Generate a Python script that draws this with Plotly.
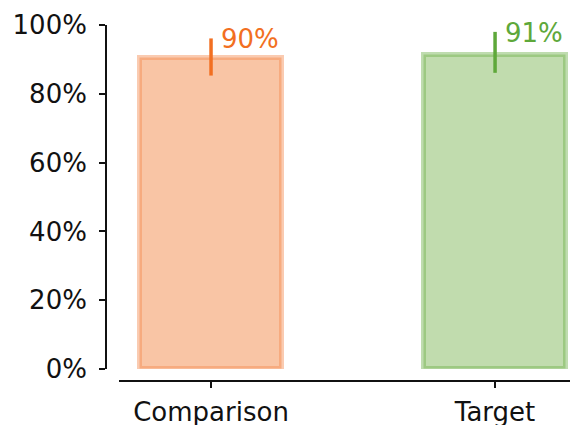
import plotly.graph_objects as go

categories = ["Comparison", "Target"]
values = [0.905, 0.914]
err_plus = [0.056, 0.066]
err_minus = [0.052, 0.053]
labels = ["90%", "91%"]
y_ticks = [0, 0.2, 0.4, 0.6, 0.8, 1.0]

fills = ["#f9c5a5", "#c1dcae"]
edges = ["rgba(243,140,82,0.45)", "rgba(112,178,78,0.45)"]
accents = ["#f26f21", "#5ea83a"]

# page body margin offset (8px) compensated
OFF = 8
W, H = 578 - OFF, 425 - OFF
FONT = "DejaVu Sans"


def px(x):
    return (x - OFF) / W


def py(y):
    return (H - (y - OFF)) / H


fig = go.Figure()
for i, c in enumerate(categories):
    fig.add_trace(go.Bar(
        x=[i], y=[values[i]], width=0.5,
        marker=dict(color=fills[i], line=dict(color=edges[i], width=5)),
        error_y=dict(type="data", symmetric=False, array=[err_plus[i]],
                     arrayminus=[err_minus[i]], color=accents[i],
                     thickness=3.5, width=0),
        showlegend=False, hoverinfo="skip",
    ))
    fig.add_annotation(
        x=i, y=values[i] + err_plus[i], text=labels[i], showarrow=False,
        xanchor="left", yanchor="middle", xshift=8, yshift=-1,
        font=dict(family=FONT, size=26, color=accents[i]),
    )

fig.update_layout(
    width=W, height=H, autosize=False,
    margin=dict(l=0, r=0, t=0, b=0, pad=0),
    paper_bgcolor="white", plot_bgcolor="white",
    font=dict(family=FONT, size=26, color="#111111"),
    bargap=0,
    xaxis=dict(
        domain=[px(119), 1.0], anchor="free", position=py(381),
        range=[-0.324, 1.292], tickmode="array", tickvals=[0, 1],
        ticktext=categories, ticks="outside", ticklen=6, tickwidth=1.8,
        tickcolor="#111111", showline=True, linecolor="#111111",
        linewidth=1.8, showgrid=False, zeroline=False, automargin=False,
        ticklabelstandoff=2,
    ),
    yaxis=dict(
        domain=[py(369), py(25)], anchor="free",
        position=px(106), range=[0, 1], tickmode="array", tickvals=y_ticks,
        tickformat=".0%", ticks="outside", ticklen=6, tickwidth=1.8,
        tickcolor="#111111", showline=True, linecolor="#111111",
        linewidth=1.8, showgrid=False, zeroline=False, automargin=False,
        ticklabelstandoff=7,
    ),
)

fig.write_html("out.html")
